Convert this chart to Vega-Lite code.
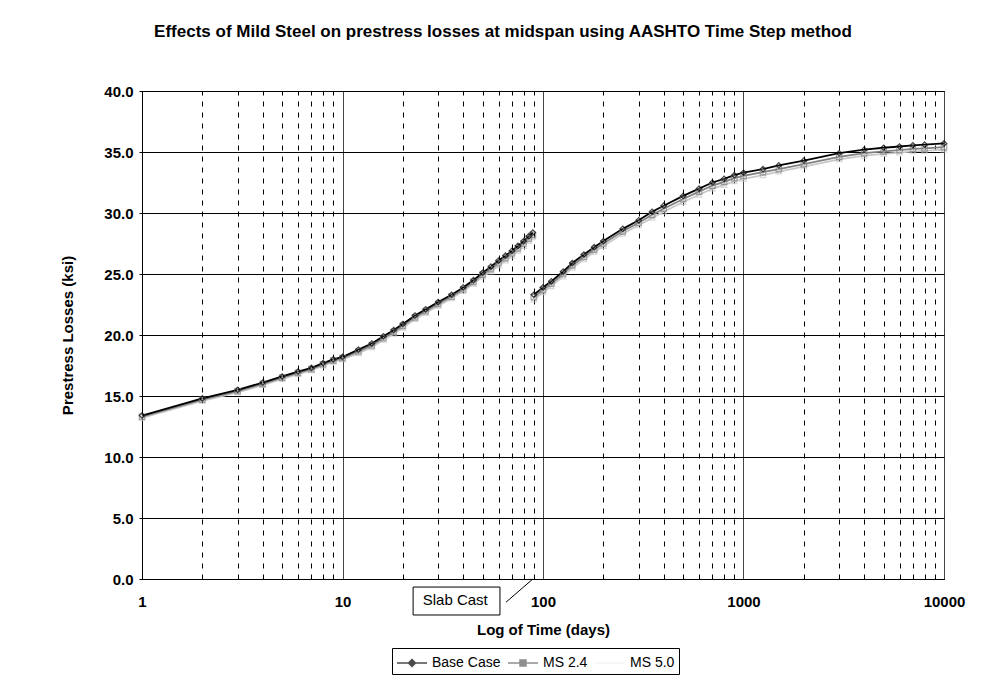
{
  "$schema": "https://vega.github.io/schema/vega-lite/v6.json",
  "width": 802,
  "height": 488,
  "autosize": {"type": "none"},
  "padding": {"left": 142, "top": 91, "right": 61, "bottom": 109},
  "background": "white",
  "config": {"font": "Liberation Sans", "view": {"stroke": "#000000", "strokeWidth": 1}},
  "title": {"text": "Effects of Mild Steel on prestress losses at midspan using AASHTO Time Step method", "fontSize": 17, "fontWeight": "bold", "anchor": "middle", "dx": -40, "offset": 43, "color": "#000000"},
  "data": {"values": [
    {"series":"MS 5.0","seg":1,"day":1,"loss":13.2},{"series":"MS 5.0","seg":1,"day":2,"loss":14.6},{"series":"MS 5.0","seg":1,"day":3,"loss":15.3},{"series":"MS 5.0","seg":1,"day":4,"loss":15.9},{"series":"MS 5.0","seg":1,"day":5,"loss":16.4},{"series":"MS 5.0","seg":1,"day":6,"loss":16.8},{"series":"MS 5.0","seg":1,"day":7,"loss":17.1},{"series":"MS 5.0","seg":1,"day":8,"loss":17.5},{"series":"MS 5.0","seg":1,"day":9,"loss":17.8},{"series":"MS 5.0","seg":1,"day":10,"loss":18.0},{"series":"MS 5.0","seg":1,"day":12,"loss":18.5},{"series":"MS 5.0","seg":1,"day":14,"loss":19.0},{"series":"MS 5.0","seg":1,"day":16,"loss":19.6},{"series":"MS 5.0","seg":1,"day":18,"loss":20.1},{"series":"MS 5.0","seg":1,"day":20,"loss":20.6},{"series":"MS 5.0","seg":1,"day":23,"loss":21.3},{"series":"MS 5.0","seg":1,"day":26,"loss":21.8},{"series":"MS 5.0","seg":1,"day":30,"loss":22.4},{"series":"MS 5.0","seg":1,"day":35,"loss":23.0},{"series":"MS 5.0","seg":1,"day":40,"loss":23.6},{"series":"MS 5.0","seg":1,"day":45,"loss":24.2},{"series":"MS 5.0","seg":1,"day":50,"loss":24.8},{"series":"MS 5.0","seg":1,"day":55,"loss":25.2},{"series":"MS 5.0","seg":1,"day":60,"loss":25.7},{"series":"MS 5.0","seg":1,"day":65,"loss":26.1},{"series":"MS 5.0","seg":1,"day":70,"loss":26.5},{"series":"MS 5.0","seg":1,"day":75,"loss":26.9},{"series":"MS 5.0","seg":1,"day":80,"loss":27.3},{"series":"MS 5.0","seg":1,"day":85,"loss":27.7},{"series":"MS 5.0","seg":1,"day":89,"loss":28.0},
    {"series":"MS 5.0","seg":2,"day":90,"loss":22.9},{"series":"MS 5.0","seg":2,"day":100,"loss":23.5},{"series":"MS 5.0","seg":2,"day":110,"loss":24.0},{"series":"MS 5.0","seg":2,"day":126,"loss":24.8},{"series":"MS 5.0","seg":2,"day":140,"loss":25.5},{"series":"MS 5.0","seg":2,"day":160,"loss":26.2},{"series":"MS 5.0","seg":2,"day":180,"loss":26.8},{"series":"MS 5.0","seg":2,"day":200,"loss":27.3},{"series":"MS 5.0","seg":2,"day":250,"loss":28.3},{"series":"MS 5.0","seg":2,"day":300,"loss":29.0},{"series":"MS 5.0","seg":2,"day":350,"loss":29.6},{"series":"MS 5.0","seg":2,"day":400,"loss":30.1},{"series":"MS 5.0","seg":2,"day":500,"loss":30.9},{"series":"MS 5.0","seg":2,"day":600,"loss":31.5},{"series":"MS 5.0","seg":2,"day":700,"loss":32.0},{"series":"MS 5.0","seg":2,"day":800,"loss":32.3},{"series":"MS 5.0","seg":2,"day":900,"loss":32.6},{"series":"MS 5.0","seg":2,"day":1000,"loss":32.8},{"series":"MS 5.0","seg":2,"day":1250,"loss":33.1},{"series":"MS 5.0","seg":2,"day":1500,"loss":33.4},{"series":"MS 5.0","seg":2,"day":2000,"loss":33.8},{"series":"MS 5.0","seg":2,"day":3000,"loss":34.4},{"series":"MS 5.0","seg":2,"day":4000,"loss":34.7},{"series":"MS 5.0","seg":2,"day":5000,"loss":34.85},{"series":"MS 5.0","seg":2,"day":6000,"loss":34.95},{"series":"MS 5.0","seg":2,"day":7000,"loss":35.05},{"series":"MS 5.0","seg":2,"day":8000,"loss":35.1},{"series":"MS 5.0","seg":2,"day":10000,"loss":35.2},
    {"series":"MS 2.4","seg":1,"day":1,"loss":13.3},{"series":"MS 2.4","seg":1,"day":2,"loss":14.7},{"series":"MS 2.4","seg":1,"day":3,"loss":15.4},{"series":"MS 2.4","seg":1,"day":4,"loss":16.0},{"series":"MS 2.4","seg":1,"day":5,"loss":16.5},{"series":"MS 2.4","seg":1,"day":6,"loss":16.9},{"series":"MS 2.4","seg":1,"day":7,"loss":17.2},{"series":"MS 2.4","seg":1,"day":8,"loss":17.6},{"series":"MS 2.4","seg":1,"day":9,"loss":17.9},{"series":"MS 2.4","seg":1,"day":10,"loss":18.1},{"series":"MS 2.4","seg":1,"day":12,"loss":18.65},{"series":"MS 2.4","seg":1,"day":14,"loss":19.15},{"series":"MS 2.4","seg":1,"day":16,"loss":19.75},{"series":"MS 2.4","seg":1,"day":18,"loss":20.25},{"series":"MS 2.4","seg":1,"day":20,"loss":20.75},{"series":"MS 2.4","seg":1,"day":23,"loss":21.45},{"series":"MS 2.4","seg":1,"day":26,"loss":21.95},{"series":"MS 2.4","seg":1,"day":30,"loss":22.55},{"series":"MS 2.4","seg":1,"day":35,"loss":23.15},{"series":"MS 2.4","seg":1,"day":40,"loss":23.75},{"series":"MS 2.4","seg":1,"day":45,"loss":24.35},{"series":"MS 2.4","seg":1,"day":50,"loss":24.95},{"series":"MS 2.4","seg":1,"day":55,"loss":25.4},{"series":"MS 2.4","seg":1,"day":60,"loss":25.9},{"series":"MS 2.4","seg":1,"day":65,"loss":26.3},{"series":"MS 2.4","seg":1,"day":70,"loss":26.7},{"series":"MS 2.4","seg":1,"day":75,"loss":27.1},{"series":"MS 2.4","seg":1,"day":80,"loss":27.5},{"series":"MS 2.4","seg":1,"day":85,"loss":27.9},{"series":"MS 2.4","seg":1,"day":89,"loss":28.2},
    {"series":"MS 2.4","seg":2,"day":90,"loss":23.1},{"series":"MS 2.4","seg":2,"day":100,"loss":23.7},{"series":"MS 2.4","seg":2,"day":110,"loss":24.2},{"series":"MS 2.4","seg":2,"day":126,"loss":25.0},{"series":"MS 2.4","seg":2,"day":140,"loss":25.7},{"series":"MS 2.4","seg":2,"day":160,"loss":26.4},{"series":"MS 2.4","seg":2,"day":180,"loss":27.0},{"series":"MS 2.4","seg":2,"day":200,"loss":27.5},{"series":"MS 2.4","seg":2,"day":250,"loss":28.5},{"series":"MS 2.4","seg":2,"day":300,"loss":29.2},{"series":"MS 2.4","seg":2,"day":350,"loss":29.85},{"series":"MS 2.4","seg":2,"day":400,"loss":30.35},{"series":"MS 2.4","seg":2,"day":500,"loss":31.15},{"series":"MS 2.4","seg":2,"day":600,"loss":31.75},{"series":"MS 2.4","seg":2,"day":700,"loss":32.25},{"series":"MS 2.4","seg":2,"day":800,"loss":32.55},{"series":"MS 2.4","seg":2,"day":900,"loss":32.85},{"series":"MS 2.4","seg":2,"day":1000,"loss":33.05},{"series":"MS 2.4","seg":2,"day":1250,"loss":33.35},{"series":"MS 2.4","seg":2,"day":1500,"loss":33.6},{"series":"MS 2.4","seg":2,"day":2000,"loss":34.0},{"series":"MS 2.4","seg":2,"day":3000,"loss":34.6},{"series":"MS 2.4","seg":2,"day":4000,"loss":34.9},{"series":"MS 2.4","seg":2,"day":5000,"loss":35.05},{"series":"MS 2.4","seg":2,"day":6000,"loss":35.15},{"series":"MS 2.4","seg":2,"day":7000,"loss":35.25},{"series":"MS 2.4","seg":2,"day":8000,"loss":35.3},{"series":"MS 2.4","seg":2,"day":10000,"loss":35.4},
    {"series":"Base Case","seg":1,"day":1,"loss":13.4},{"series":"Base Case","seg":1,"day":2,"loss":14.8},{"series":"Base Case","seg":1,"day":3,"loss":15.5},{"series":"Base Case","seg":1,"day":4,"loss":16.1},{"series":"Base Case","seg":1,"day":5,"loss":16.6},{"series":"Base Case","seg":1,"day":6,"loss":17.0},{"series":"Base Case","seg":1,"day":7,"loss":17.3},{"series":"Base Case","seg":1,"day":8,"loss":17.7},{"series":"Base Case","seg":1,"day":9,"loss":18.0},{"series":"Base Case","seg":1,"day":10,"loss":18.2},{"series":"Base Case","seg":1,"day":12,"loss":18.8},{"series":"Base Case","seg":1,"day":14,"loss":19.3},{"series":"Base Case","seg":1,"day":16,"loss":19.9},{"series":"Base Case","seg":1,"day":18,"loss":20.4},{"series":"Base Case","seg":1,"day":20,"loss":20.9},{"series":"Base Case","seg":1,"day":23,"loss":21.6},{"series":"Base Case","seg":1,"day":26,"loss":22.1},{"series":"Base Case","seg":1,"day":30,"loss":22.7},{"series":"Base Case","seg":1,"day":35,"loss":23.3},{"series":"Base Case","seg":1,"day":40,"loss":23.9},{"series":"Base Case","seg":1,"day":45,"loss":24.5},{"series":"Base Case","seg":1,"day":50,"loss":25.1},{"series":"Base Case","seg":1,"day":55,"loss":25.6},{"series":"Base Case","seg":1,"day":60,"loss":26.1},{"series":"Base Case","seg":1,"day":65,"loss":26.5},{"series":"Base Case","seg":1,"day":70,"loss":26.9},{"series":"Base Case","seg":1,"day":75,"loss":27.3},{"series":"Base Case","seg":1,"day":80,"loss":27.7},{"series":"Base Case","seg":1,"day":85,"loss":28.1},{"series":"Base Case","seg":1,"day":89,"loss":28.4},
    {"series":"Base Case","seg":2,"day":90,"loss":23.3},{"series":"Base Case","seg":2,"day":100,"loss":23.9},{"series":"Base Case","seg":2,"day":110,"loss":24.4},{"series":"Base Case","seg":2,"day":126,"loss":25.2},{"series":"Base Case","seg":2,"day":140,"loss":25.9},{"series":"Base Case","seg":2,"day":160,"loss":26.6},{"series":"Base Case","seg":2,"day":180,"loss":27.2},{"series":"Base Case","seg":2,"day":200,"loss":27.7},{"series":"Base Case","seg":2,"day":250,"loss":28.7},{"series":"Base Case","seg":2,"day":300,"loss":29.4},{"series":"Base Case","seg":2,"day":350,"loss":30.1},{"series":"Base Case","seg":2,"day":400,"loss":30.6},{"series":"Base Case","seg":2,"day":500,"loss":31.4},{"series":"Base Case","seg":2,"day":600,"loss":32.0},{"series":"Base Case","seg":2,"day":700,"loss":32.5},{"series":"Base Case","seg":2,"day":800,"loss":32.8},{"series":"Base Case","seg":2,"day":900,"loss":33.1},{"series":"Base Case","seg":2,"day":1000,"loss":33.3},{"series":"Base Case","seg":2,"day":1250,"loss":33.6},{"series":"Base Case","seg":2,"day":1500,"loss":33.9},{"series":"Base Case","seg":2,"day":2000,"loss":34.3},{"series":"Base Case","seg":2,"day":3000,"loss":34.9},{"series":"Base Case","seg":2,"day":4000,"loss":35.2},{"series":"Base Case","seg":2,"day":5000,"loss":35.35},{"series":"Base Case","seg":2,"day":6000,"loss":35.45},{"series":"Base Case","seg":2,"day":7000,"loss":35.55},{"series":"Base Case","seg":2,"day":8000,"loss":35.6},{"series":"Base Case","seg":2,"day":10000,"loss":35.7}
  ]},
  "layer": [
    {
      "mark": {"type": "line", "strokeWidth": 1.8},
      "encoding": {
        "x": {"field": "day", "type": "quantitative", "scale": {"type": "log", "domain": [1, 10000], "nice": false},
          "axis": {"orient": "top", "values": [2,3,4,5,6,7,8,9,20,30,40,50,60,70,80,90,200,300,400,500,600,700,800,900,2000,3000,4000,5000,6000,7000,8000,9000], "grid": true, "gridColor": "#000000", "gridDash": [5, 6], "gridWidth": 1, "labels": false, "ticks": false, "domain": false, "title": null}},
        "y": {"field": "loss", "type": "quantitative", "scale": {"domain": [0, 40], "nice": false},
          "axis": {"title": "Prestress Losses (ksi)", "values": [0,5,10,15,20,25,30,35,40], "format": ".1f", "grid": true, "gridColor": "#000000", "gridWidth": 1, "domainColor": "#000000", "tickColor": "#000000", "tickSize": 3, "labelPadding": 6, "labelFontSize": 15, "labelFontWeight": "bold", "labelColor": "#000000", "titleFontSize": 15, "titleFontWeight": "bold", "titleColor": "#000000", "titlePadding": 28}},
        "color": {"field": "series", "type": "nominal", "scale": {"domain": ["Base Case", "MS 2.4", "MS 5.0"], "range": ["#000000", "#808080", "#c8c8c8"]}, "legend": null},
        "detail": {"field": "seg", "type": "nominal"}
      }
    },
    {
      "mark": {"type": "point", "filled": false, "size": 30, "strokeWidth": 1.2},
      "encoding": {
        "x": {"field": "day", "type": "quantitative", "scale": {"type": "log", "domain": [1, 10000], "nice": false},
          "axis": {"orient": "bottom", "values": [1, 10, 100, 1000, 10000], "format": "d", "grid": true, "gridColor": "#444444", "gridWidth": 1, "ticks": false, "domainColor": "#000000", "labelFontSize": 15, "labelFontWeight": "bold", "labelColor": "#000000", "labelPadding": 15, "labelFlush": false, "title": "Log of Time (days)", "titleFontSize": 15, "titleFontWeight": "bold", "titleColor": "#000000", "titlePadding": 13}},
        "y": {"field": "loss", "type": "quantitative", "scale": {"domain": [0, 40], "nice": false}, "axis": null},
        "color": {"field": "series", "type": "nominal", "scale": {"domain": ["Base Case", "MS 2.4", "MS 5.0"], "range": ["#000000", "#808080", "#c8c8c8"]}, "legend": null},
        "shape": {"field": "series", "type": "nominal", "scale": {"domain": ["Base Case", "MS 2.4", "MS 5.0"], "range": ["diamond", "square", "triangle-up"]}, "legend": null}
      }
    },
    {
      "transform": [{"filter": "datum.loss > 100"}],
      "mark": {"type": "point", "filled": false, "size": 400, "strokeWidth": 1.5},
      "encoding": {
        "x": {"field": "day", "type": "quantitative", "scale": {"type": "log", "domain": [1, 10000], "nice": false}, "axis": null},
        "y": {"field": "loss", "type": "quantitative", "scale": {"domain": [0, 40], "nice": false}, "axis": null},
        "color": {"field": "series", "type": "nominal", "scale": {"domain": ["Base Case", "MS 2.4", "MS 5.0"], "range": ["#000000", "#606060", "#f2f2f2"]},
          "legend": {"title": null, "orient": "none", "legendX": 250, "legendY": 557, "direction": "horizontal", "strokeColor": "#000000", "fillColor": "#ffffff", "padding": 4, "symbolSize": 400, "symbolStrokeWidth": 1.5, "labelFontSize": 14, "labelColor": "#000000", "labelOffset": 14, "columnPadding": 4}},
        "shape": {"field": "series", "type": "nominal", "scale": {"domain": ["Base Case", "MS 2.4", "MS 5.0"], "range": ["M-1,0H2M0.5,-0.35L0.85,0L0.5,0.35L0.15,0ZM0.5,-0.18L0.68,0L0.5,0.18L0.32,0Z", "M-1,0H2M0.2,-0.3H0.8V0.3H0.2ZM0.35,-0.15H0.65V0.15H0.35Z", "M-1,0H2"]},
          "legend": {"title": null, "orient": "none", "legendX": 250, "legendY": 557, "direction": "horizontal", "strokeColor": "#000000", "fillColor": "#ffffff", "padding": 4, "symbolSize": 400, "symbolStrokeWidth": 1.5, "labelFontSize": 14, "labelColor": "#000000", "labelOffset": 14, "columnPadding": 4}}
      }
    },
    {
      "data": {"values": [{}]},
      "mark": {"type": "rect", "fill": "#ffffff", "stroke": "#000000", "strokeWidth": 1},
      "encoding": {
        "x": {"datum": 22.5, "type": "quantitative", "scale": {"type": "log", "domain": [1, 10000], "nice": false}, "axis": null},
        "x2": {"datum": 61},
        "y": {"datum": -0.66, "type": "quantitative", "scale": {"domain": [0, 40], "nice": false}, "axis": null},
        "y2": {"datum": -2.95}
      }
    },
    {
      "data": {"values": [{}]},
      "mark": {"type": "text", "text": "Slab Cast", "fontSize": 15, "align": "center", "baseline": "middle", "color": "#000000"},
      "encoding": {
        "x": {"datum": 36.5, "type": "quantitative", "scale": {"type": "log", "domain": [1, 10000], "nice": false}, "axis": null},
        "y": {"datum": -1.75, "type": "quantitative", "scale": {"domain": [0, 40], "nice": false}, "axis": null}
      }
    },
    {
      "data": {"values": [{}]},
      "mark": {"type": "rule", "color": "#000000", "strokeWidth": 1},
      "encoding": {
        "x": {"datum": 65.4, "type": "quantitative", "scale": {"type": "log", "domain": [1, 10000], "nice": false}, "axis": null},
        "x2": {"datum": 89},
        "y": {"datum": -1.9, "type": "quantitative", "scale": {"domain": [0, 40], "nice": false}, "axis": null},
        "y2": {"datum": 0}
      }
    }
  ],
  "resolve": {"scale": {"color": "independent", "shape": "independent"}, "axis": {"x": "independent", "y": "independent"}}
}
